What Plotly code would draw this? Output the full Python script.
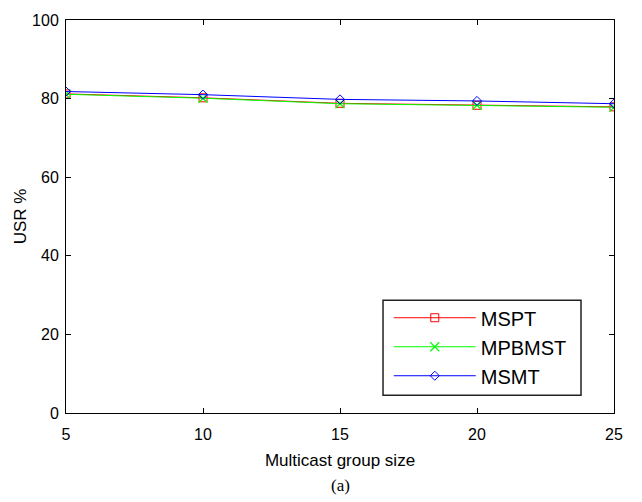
import plotly.graph_objects as go

# Multicast group sizes and USR (%) for each tree algorithm
group_size = [5, 10, 15, 20, 25]
mspt = [81.2, 80.2, 78.8, 78.3, 77.9]
mpbmst = [81.1, 80.1, 78.7, 78.3, 77.8]
msmt = [81.8, 81.0, 79.8, 79.4, 78.7]

x_ticks = [5, 10, 15, 20, 25]
y_ticks = [0, 20, 40, 60, 80, 100]

SANS = "Liberation Sans, Arial, Helvetica"
SERIF = "Liberation Serif, Times New Roman"

fig = go.Figure()
fig.add_trace(go.Scatter(x=group_size, y=mspt, name="MSPT", mode="lines+markers",
                         line=dict(color="#ff0000", width=1),
                         marker=dict(symbol="square-open", size=8, color="#ff0000", line=dict(width=1))))
fig.add_trace(go.Scatter(x=group_size, y=mpbmst, name="MPBMST", mode="lines+markers",
                         line=dict(color="#00ff00", width=1),
                         marker=dict(symbol="x-thin-open", size=9, color="#00ff00", line=dict(width=1.2, color="#00ff00"))))
fig.add_trace(go.Scatter(x=group_size, y=msmt, name="MSMT", mode="lines+markers",
                         line=dict(color="#0000ff", width=1),
                         marker=dict(symbol="diamond-open", size=7, color="#0000ff", line=dict(width=1))))

axis_common = dict(showline=True, linecolor="black", linewidth=1, mirror="ticks",
                   ticks="inside", ticklen=5, tickcolor="black", showgrid=False, zeroline=False,
                   tickfont=dict(family=SANS, size=16, color="black"))

fig.update_xaxes(range=[5, 25], tickvals=x_ticks, ticklabelstandoff=7,
                 title=dict(text="Multicast group size", font=dict(family=SANS, size=17, color="black"),
                            standoff=11),
                 **axis_common)
fig.update_yaxes(range=[0, 100], tickvals=y_ticks, ticklabelstandoff=3,
                 title=dict(text="USR %", font=dict(family=SANS, size=17, color="black"),
                            standoff=1),
                 **axis_common)

fig.add_annotation(text="(a)", xref="paper", yref="paper", x=0.5, y=-0.185, showarrow=False,
                   yanchor="middle", font=dict(family=SERIF, size=17, color="black"))

# Framed box behind the legend entries
fig.add_shape(type="rect", xref="paper", yref="paper", x0=0.5785, x1=0.9398, y0=0.045, y1=0.287,
              line=dict(color="#222222", width=1.5), fillcolor="white", layer="above")

fig.update_layout(
    width=642, height=502,
    margin=dict(l=66, r=28, t=12, b=89),
    plot_bgcolor="white", paper_bgcolor="white",
    legend=dict(x=0.589, y=0.292, xanchor="left", yanchor="top",
                borderwidth=0, bgcolor="rgba(0,0,0,0)",
                itemwidth=82, tracegroupgap=3,
                font=dict(family=SANS, size=20, color="black")),
    showlegend=True,
)

fig.write_html("out.html")
